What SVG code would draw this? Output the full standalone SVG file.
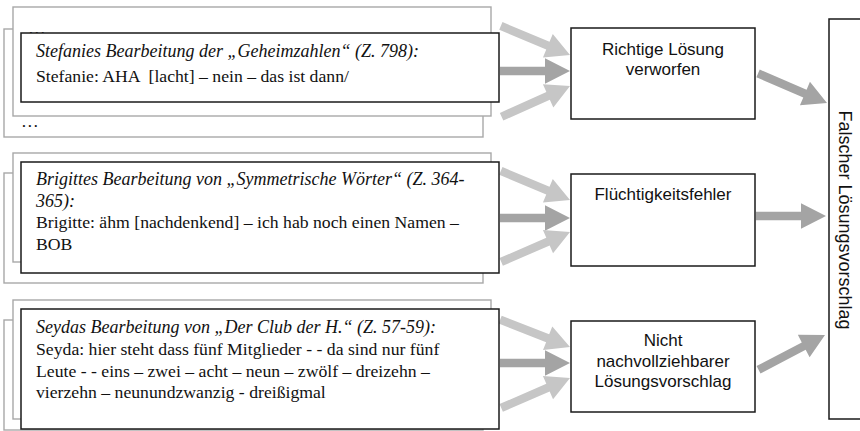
<svg xmlns="http://www.w3.org/2000/svg" xmlns:xlink="http://www.w3.org/1999/xlink" width="860" height="431" viewBox="0 0 860 431">
<style>
.bg{fill:#fff}
.frame{fill:#fff;stroke:#a8a8a8;stroke-width:1.4}
.quote{fill:#fff;stroke:#1a1a1a;stroke-width:1.5}
.box{fill:#fff;stroke:#1a1a1a;stroke-width:1.5}
.ser{font-family:"Liberation Serif","Times New Roman",serif;font-size:17.7px;fill:#111}
.it{font-style:italic;font-size:18px}
.sans{font-family:"Liberation Sans",Arial,sans-serif;font-size:17px;fill:#111;text-anchor:middle}
.vert{font-size:18px}
.light{fill:#c6c6c6}
.dark{fill:#a4a4a4}
</style>
<defs>
<path id="arrL" d="M0,0 L-24,-12.7 L-24,-4.2 L-75,-4.2 L-75,4.2 L-24,4.2 L-24,12.7 Z"/>
<path id="arrH" d="M0,0 L-25,-12.7 L-25,-4.2 L-70,-4.2 L-70,4.2 L-25,4.2 L-25,12.7 Z"/>
</defs>
<rect class="bg" x="0" y="0" width="860" height="431"/>

<g id="connectors">
<use xlink:href="#arrL" class="light" transform="translate(570,55) rotate(22.8)"/>
<use xlink:href="#arrH" class="dark" transform="translate(570,71)"/>
<use xlink:href="#arrL" class="light" transform="translate(570,86) rotate(-24.2)"/>
<use xlink:href="#arrL" class="light" transform="translate(570,200) rotate(22.8)"/>
<use xlink:href="#arrH" class="dark" transform="translate(570,218)"/>
<use xlink:href="#arrL" class="light" transform="translate(570,232) rotate(-23.5)"/>
<use xlink:href="#arrL" class="light" transform="translate(570,347) rotate(21.4)"/>
<use xlink:href="#arrH" class="dark" transform="translate(570,363)"/>
<use xlink:href="#arrL" class="light" transform="translate(570,378) rotate(-23.5)"/>
<use xlink:href="#arrL" class="dark" transform="translate(827,103) rotate(23.2)"/>
<use xlink:href="#arrH" class="dark" transform="translate(826,216)"/>
<use xlink:href="#arrL" class="dark" transform="translate(825,335) rotate(-27.6)"/>
</g>

<g id="quote-stefanie">
<rect class="frame" x="4" y="29" width="479" height="108"/>
<rect class="frame" x="13" y="7" width="478" height="109"/>
<text class="ser" x="28" y="33.5">…</text>
<text class="ser" x="21" y="127">…</text>
<rect class="quote" x="21" y="33" width="478" height="69"/>
<text class="ser it" x="36" y="57">Stefanies Bearbeitung der „Geheimzahlen“ (Z. 798):</text>
<text class="ser" x="36" y="81.5" xml:space="preserve">Stefanie: AHA  [lacht] – nein – das ist dann/</text>
</g>

<g id="quote-brigitte">
<rect class="frame" x="4" y="173" width="479" height="110"/>
<rect class="frame" x="13" y="153" width="478" height="109"/>
<rect class="quote" x="21" y="162" width="478" height="111"/>
<text class="ser it" x="36" y="185">Brigittes Bearbeitung von „Symmetrische Wörter“ (Z. 364-</text>
<text class="ser it" x="36" y="206.5">365):</text>
<text class="ser" x="36" y="228">Brigitte: ähm [nachdenkend] – ich hab noch einen Namen –</text>
<text class="ser" x="36" y="250">BOB</text>
</g>

<g id="quote-seyda">
<rect class="frame" x="4" y="320" width="479" height="110"/>
<rect class="frame" x="13" y="300" width="478" height="119"/>
<rect class="quote" x="21" y="309" width="478" height="120"/>
<text class="ser it" x="36" y="333">Seydas Bearbeitung von „Der Club der H.“ (Z. 57-59):</text>
<text class="ser" x="36" y="355">Seyda: hier steht dass fünf Mitglieder - - da sind nur fünf</text>
<text class="ser" x="36" y="376.5">Leute - - eins – zwei – acht – neun – zwölf – dreizehn –</text>
<text class="ser" x="36" y="398">vierzehn – neunundzwanzig - dreißigmal</text>
</g>

<g id="richtige-loesung">
<rect class="box" x="571" y="28" width="184" height="91"/>
<text class="sans" x="663" y="55">Richtige Lösung</text>
<text class="sans" x="663" y="74.5">verworfen</text>
</g>

<g id="fluechtigkeitsfehler">
<rect class="box" x="571" y="174" width="184" height="92"/>
<text class="sans" x="663" y="200">Flüchtigkeitsfehler</text>
</g>

<g id="nicht-nachvollziehbar">
<rect class="box" x="571" y="321" width="184" height="91"/>
<text class="sans" x="663" y="346">Nicht</text>
<text class="sans" x="663" y="366.5">nachvollziehbarer</text>
<text class="sans" x="663" y="387">Lösungsvorschlag</text>
</g>

<g id="falscher-loesungsvorschlag">
<rect class="box" x="829" y="19" width="40" height="400"/>
<text class="sans vert" transform="translate(839,220) rotate(90)" x="0" y="0">Falscher Lösungsvorschlag</text>
</g>
</svg>
